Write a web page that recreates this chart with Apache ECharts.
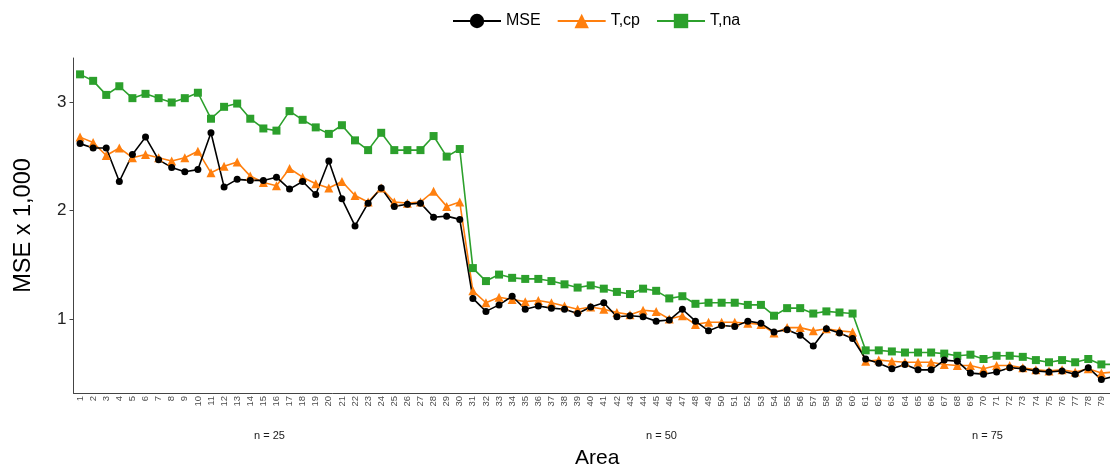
<!DOCTYPE html>
<html>
<head>
<meta charset="utf-8">
<title>MSE by area</title>
<script src="https://cdn.jsdelivr.net/npm/echarts@6/dist/echarts.min.js"></script>
<style>
  html, body { margin: 0; padding: 0; background: #fff; }
  #chart { width: 1110px; height: 468px; }
</style>
</head>
<body>
<div id="chart"></div>
<script>
// areas 1..80
const areas = []
for (let i = 1; i <= 80; i++) areas.push(String(i))

// values (MSE x 1,000)
const mseValues = [
  2.62, 2.58, 2.58, 2.27, 2.52, 2.68, 2.47, 2.40, 2.36, 2.38,
  2.72, 2.22, 2.29, 2.28, 2.28, 2.31, 2.20, 2.27, 2.15, 2.46,
  2.11, 1.86, 2.07, 2.21, 2.04, 2.06, 2.07, 1.94, 1.95, 1.92,
  1.19, 1.07, 1.13, 1.21, 1.09, 1.12, 1.10, 1.09, 1.05, 1.11,
  1.15, 1.02, 1.03, 1.02, 0.98, 0.99, 1.09, 0.98, 0.89, 0.94,
  0.93, 0.98, 0.96, 0.88, 0.90, 0.85, 0.75, 0.91, 0.87, 0.82,
  0.63, 0.59, 0.54, 0.58, 0.53, 0.53, 0.62, 0.61, 0.50, 0.49,
  0.51, 0.55, 0.54, 0.52, 0.51, 0.52, 0.49, 0.55, 0.44, 0.47
]
const tcpValues = [
  2.68, 2.63, 2.51, 2.58, 2.49, 2.52, 2.49, 2.46, 2.49, 2.55,
  2.35, 2.41, 2.45, 2.32, 2.26, 2.23, 2.39, 2.31, 2.25, 2.21,
  2.27, 2.14, 2.08, 2.21, 2.08, 2.07, 2.08, 2.18, 2.04, 2.08,
  1.26, 1.15, 1.20, 1.18, 1.16, 1.17, 1.15, 1.12, 1.09, 1.11,
  1.09, 1.06, 1.04, 1.08, 1.07, 1.00, 1.03, 0.95, 0.97, 0.97,
  0.97, 0.96, 0.95, 0.87, 0.92, 0.92, 0.89, 0.91, 0.89, 0.88,
  0.61, 0.62, 0.61, 0.60, 0.60, 0.60, 0.58, 0.57, 0.57, 0.54,
  0.57, 0.57, 0.55, 0.53, 0.52, 0.53, 0.51, 0.54, 0.50, 0.51
]
const tnaValues = [
  3.26, 3.20, 3.07, 3.15, 3.04, 3.08, 3.04, 3.00, 3.04, 3.09,
  2.85, 2.96, 2.99, 2.85, 2.76, 2.74, 2.92, 2.84, 2.77, 2.71,
  2.79, 2.65, 2.56, 2.72, 2.56, 2.56, 2.56, 2.69, 2.50, 2.57,
  1.47, 1.35, 1.41, 1.38, 1.37, 1.37, 1.35, 1.32, 1.29, 1.31,
  1.28, 1.25, 1.23, 1.28, 1.26, 1.19, 1.21, 1.14, 1.15, 1.15,
  1.15, 1.13, 1.13, 1.03, 1.10, 1.10, 1.05, 1.07, 1.06, 1.05,
  0.71, 0.71, 0.70, 0.69, 0.69, 0.69, 0.68, 0.66, 0.67, 0.63,
  0.66, 0.66, 0.65, 0.62, 0.60, 0.62, 0.60, 0.63, 0.58, 0.58
]
const yTicks = [1, 2, 3]
const groupLabels = ['n = 25', 'n = 50', 'n = 75']

const font = 'Liberation Sans, Arial, sans-serif'
const chart = echarts.init(document.getElementById('chart'))

const lineSeries = (name, data, color, symbol, size) => ({
  name: name,
  type: 'line',
  data: data,
  symbol: symbol,
  symbolSize: size,
  showAllSymbol: true,
  itemStyle: { color: color },
  lineStyle: { color: color, width: 1.6 },
  emphasis: { disabled: true },
  animation: false
})

const option = {
  backgroundColor: '#fff',
  textStyle: { fontFamily: font },
  legend: {
    top: 8,
    left: 447,
    itemWidth: 48,
    itemHeight: 18,
    itemGap: 16,
    textStyle: { fontSize: 16, color: '#000', fontFamily: font },
    data: ['MSE', 'T,cp', 'T,na']
  },
  grid: {
    left: 73.5,
    right: -11,
    top: 58,
    bottom: 75,
    containLabel: false,
    outerBoundsMode: 'none'
  },
  xAxis: {
    type: 'category',
    data: areas,
    boundaryGap: true,
    name: 'Area',
    nameLocation: 'middle',
    nameGap: 55,
    nameTextStyle: { fontSize: 21, color: '#000', fontFamily: font },
    axisLine: { lineStyle: { color: '#444', width: 1 } },
    axisTick: { alignWithLabel: true, length: 3, lineStyle: { color: '#444' }, interval: 0 },
    axisLabel: { interval: 0, rotate: 90, fontSize: 9.5, color: '#4d4d4d', margin: 3 }
  },
  yAxis: {
    type: 'value',
    min: 0.316,
    max: 3.411,
    name: 'MSE x 1,000',
    nameLocation: 'middle',
    nameGap: 38,
    nameTextStyle: { fontSize: 23.5, color: '#000', fontFamily: font },
    splitLine: { show: false },
    axisLine: { show: true, lineStyle: { color: '#444', width: 1 } },
    axisTick: { show: true, length: 4, customValues: yTicks, lineStyle: { color: '#444' } },
    axisLabel: { customValues: yTicks, fontSize: 17, color: '#222', margin: 7 }
  },
  graphic: [
    { type: 'text', left: 272 - 18, top: 430, style: { text: groupLabels[0], fontSize: 11, fill: '#1a1a1a', fontFamily: font } },
    { type: 'text', left: 664 - 18, top: 430, style: { text: groupLabels[1], fontSize: 11, fill: '#1a1a1a', fontFamily: font } },
    { type: 'text', left: 990 - 18, top: 430, style: { text: groupLabels[2], fontSize: 11, fill: '#1a1a1a', fontFamily: font } }
  ],
  series: [
    lineSeries('T,na', tnaValues, '#2CA02C', 'rect', 8),
    lineSeries('T,cp', tcpValues, '#FF7F0E', 'triangle', 9),
    lineSeries('MSE', mseValues, '#000000', 'circle', 7)
  ]
}
chart.setOption(option)
</script>
</body>
</html>
